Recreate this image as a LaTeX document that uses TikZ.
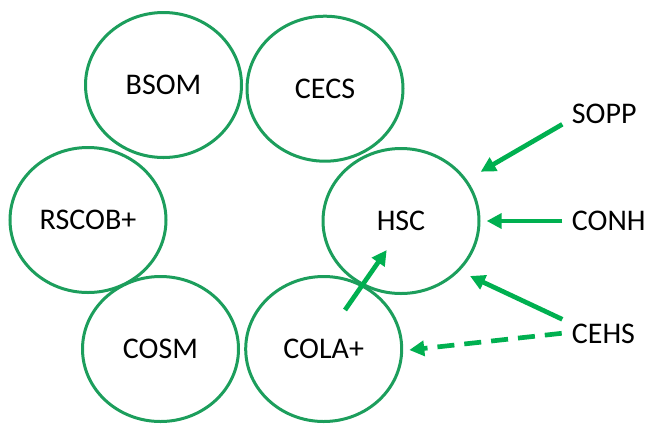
\documentclass[tikz,border=0pt]{standalone}
\usepackage{fontspec}
\setmainfont{Carlito}
\usetikzlibrary{shapes.geometric,arrows.meta}
\definecolor{ringgreen}{RGB}{28,158,92}
\definecolor{arrowgreen}{RGB}{0,176,80}
\tikzset{
  school/.style={ellipse, draw=ringgreen, line width=3pt, inner sep=0pt,
    minimum width=156pt, minimum height=145pt, font=\fontsize{30}{36}\selectfont},
  label/.style={anchor=west, inner sep=0pt, font=\fontsize{30}{36}\selectfont},
  arr/.style={draw=arrowgreen, line width=4.7pt,
    -{Triangle[length=15pt,width=15pt]}},
  dasharr/.style={arr, dash pattern=on 17pt off 10pt}
}
\begin{document}
\begin{tikzpicture}[x=1pt,y=-1pt]
\useasboundingbox (0,0) rectangle (648,424);
\node[school] (bsom) at (163.5,85) {BSOM};
\node[school] (cecs) at (325,88.7) {CECS};
\node[school] (rscob) at (88,220) {RSCOB+};
\node[school] (hsc) at (401,221) {HSC};
\node[school] (cosm) at (160.5,349) {COSM};
\node[school] (cola) at (323.7,349) {COLA+};
\node[label] (sopp) at (571.7,114) {SOPP};
\node[label] (conh) at (571.7,221.3) {CONH};
\node[label] (cehs) at (571.7,334) {CEHS};
\coordinate (s1) at (562.3,124.3);
\coordinate (t1) at (480.7,171.7);
\coordinate (s2) at (562.3,221);
\coordinate (t2) at (486.7,221);
\coordinate (s3) at (562.3,319.3);
\coordinate (t3) at (470,276);
\coordinate (s4) at (561.7,333.3);
\coordinate (t4) at (409.3,350);
\coordinate (s5) at (345,310);
\coordinate (t5) at (386.7,250);
\draw[arr] (s1) -- (t1);
\draw[arr] (s2) -- (t2);
\draw[arr] (s3) -- (t3);
\draw[dasharr] (s4) -- (t4);
\draw[arr] (s5) -- (t5);
\end{tikzpicture}
\end{document}
